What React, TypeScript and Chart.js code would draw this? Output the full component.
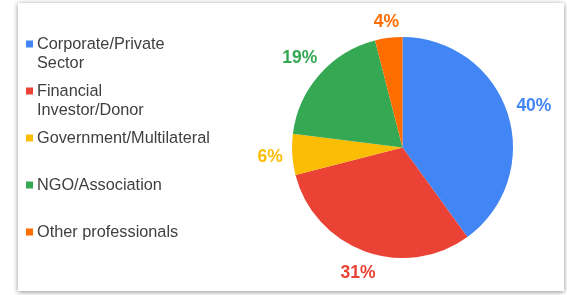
import React, { useEffect, useRef } from 'react';
import { Chart, registerables } from 'chart.js';

Chart.register(...registerables);

const categories: string[][] = [
  ['Corporate/Private', 'Sector'],
  ['Financial', 'Investor/Donor'],
  ['Government/Multilateral'],
  ['NGO/Association'],
  ['Other professionals'],
];
const shares: number[] = [40, 31, 6, 19, 4];
const colors: string[] = ['#4285F4', '#EA4335', '#FBBC04', '#34A853', '#FF6D01'];

const FONT = '"Liberation Sans", Arial, Helvetica, sans-serif';

const sideLegend = {
  id: 'sideLegend',
  afterDraw(chart: any) {
    const ctx = chart.ctx;
    const labels = chart.data.labels as string[][];
    const bg = chart.data.datasets[0].backgroundColor as string[];
    ctx.save();
    ctx.font = `16.3px ${FONT}`;
    ctx.textBaseline = 'middle';
    ctx.textAlign = 'left';
    labels.forEach((lab, i) => {
      const y = 44 + i * 47;
      ctx.fillStyle = bg[i];
      ctx.fillRect(26, y - 3.5, 7, 7);
      ctx.fillStyle = '#3f3f3f';
      lab.forEach((line, j) => ctx.fillText(line, 37, y + 1 + j * 18.5));
    });
    ctx.restore();
  },
};

const outsideLabels = {
  id: 'outsideLabels',
  afterDatasetsDraw(chart: any) {
    const ctx = chart.ctx;
    const ds = chart.data.datasets[0];
    const data = ds.data as number[];
    const total = data.reduce((a, b) => a + b, 0);
    const meta = chart.getDatasetMeta(0);
    ctx.save();
    ctx.font = `bold 17.5px ${FONT}`;
    ctx.textAlign = 'center';
    ctx.textBaseline = 'middle';
    meta.data.forEach((arc: any, i: number) => {
      const p = arc.getProps(['x', 'y', 'startAngle', 'endAngle', 'outerRadius'], true);
      const mid = (p.startAngle + p.endAngle) / 2;
      const text = `${Math.round((data[i] / total) * 100)}%`;
      const w = ctx.measureText(text).width;
      const h = 13;
      const c = Math.cos(mid);
      const s = Math.sin(mid);
      const d = p.outerRadius + 9 + Math.abs(c) * w / 2 + Math.abs(s) * h / 2;
      ctx.fillStyle = ds.backgroundColor[i];
      ctx.fillText(text, p.x + c * d, p.y + s * d + 1.5);
    });
    ctx.restore();
  },
};

export default function App() {
  const ref = useRef<HTMLCanvasElement | null>(null);

  useEffect(() => {
    if (!ref.current) return;
    const chart = new Chart(ref.current, {
      type: 'pie',
      data: {
        labels: categories as any,
        datasets: [
          {
            data: shares,
            backgroundColor: colors,
            borderWidth: 0,
          },
        ],
      },
      options: {
        responsive: false,
        animation: false,
        layout: { padding: { left: 292, right: 54, top: 37, bottom: 37 } },
        plugins: {
          legend: { display: false },
          tooltip: { enabled: false },
        },
      },
      plugins: [sideLegend, outsideLabels],
    });
    return () => chart.destroy();
  }, []);

  return (
    <div style={{ position: 'fixed', left: 0, top: 0, width: 567, height: 295, background: '#ffffff', overflow: 'hidden' }}>
      <div
        style={{
          position: 'absolute',
          left: 18,
          top: 3,
          width: 546,
          height: 288,
          background: '#ffffff',
          boxShadow: '0 1px 5px rgba(0,0,0,0.45)',
        }}
      />
      <canvas
        ref={ref}
        width={567}
        height={295}
        style={{ position: 'absolute', left: 0, top: 0, width: 567, height: 295 }}
      />
    </div>
  );
}
